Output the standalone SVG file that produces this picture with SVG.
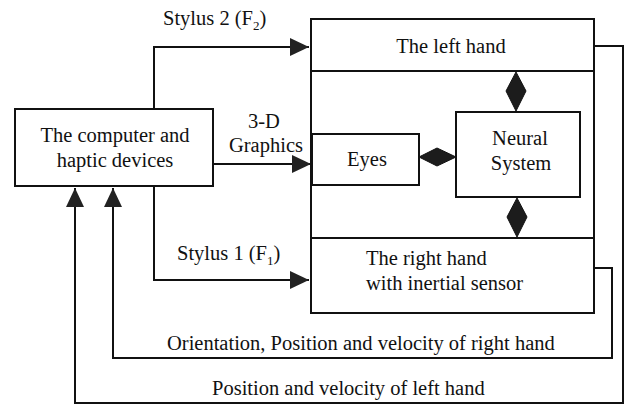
<svg xmlns="http://www.w3.org/2000/svg" width="633" height="407" viewBox="0 0 633 407">
<style>
.t{font-family:'Liberation Serif','DejaVu Serif',serif;font-size:20.5px;fill:#111}
.box{fill:#fff;stroke:#111;stroke-width:2}
.ln{fill:none;stroke:#111;stroke-width:2}
.dia{fill:#1c1c1c;stroke:#111;stroke-width:1}
</style>
<defs>
<marker id="ah" markerUnits="userSpaceOnUse" markerWidth="20" markerHeight="18" refX="19" refY="9" orient="auto">
<path d="M0,0 L19,9 L0,18 z" fill="#222"/>
</marker>
</defs>
<rect width="633" height="407" fill="#fff"/>
<g id="connectors">
<polyline class="ln" points="154,280 154,47 309,47" marker-end="url(#ah)"/>
<polyline class="ln" points="154,186 154,280 309,280" marker-end="url(#ah)"/>
<line class="ln" x1="213" y1="164" x2="311" y2="164" marker-end="url(#ah)"/>
<polyline class="ln" points="594,46 623,46 623,403 75,403 75,188" marker-end="url(#ah)"/>
<polyline class="ln" points="594,268 612,268 612,358 113,358 113,188" marker-end="url(#ah)"/>
<polygon class="dia" points="419,157 437,148 456,157 437,166"/>
<polygon class="dia" points="516,72 526,91 516,111 506,91"/>
<polygon class="dia" points="517,198 527,217 517,237 507,217"/>
</g>
<g id="outer">
<rect class="box" x="311" y="19" width="283" height="294" style="fill:none"/>
</g>
<g id="left-hand">
<rect class="box" x="311" y="19" width="283" height="52" style="fill:none"/>
<text class="t" x="451" y="53" text-anchor="middle">The left hand</text>
</g>
<g id="right-hand">
<rect class="box" x="311" y="238" width="283" height="75" style="fill:none"/>
<text class="t" x="366" y="265">The right hand</text>
<text class="t" x="366" y="290">with inertial sensor</text>
</g>
<g id="computer">
<rect class="box" x="15" y="109" width="198" height="77"/>
<text class="t" x="115" y="142" text-anchor="middle">The computer and</text>
<text class="t" x="115" y="167" text-anchor="middle">haptic devices</text>
</g>
<g id="eyes">
<rect class="box" x="312" y="134" width="107" height="51"/>
<text class="t" x="367" y="166" text-anchor="middle">Eyes</text>
</g>
<g id="neural">
<rect class="box" x="456" y="112" width="124" height="85"/>
<text class="t" x="520" y="145" text-anchor="middle">Neural</text>
<text class="t" x="521" y="170" text-anchor="middle">System</text>
</g>
<g id="labels">
<text class="t" x="163" y="25">Stylus 2 (F<tspan font-size="13" dy="5">2</tspan><tspan dy="-5">)</tspan></text>
<text class="t" x="177" y="260">Stylus 1 (F<tspan font-size="13" dy="5">1</tspan><tspan dy="-5">)</tspan></text>
<text class="t" x="264" y="128" text-anchor="middle">3-D</text>
<text class="t" x="266" y="152" text-anchor="middle">Graphics</text>
<text class="t" x="167" y="350">Orientation, Position and velocity of right hand</text>
<text class="t" x="212" y="395">Position and velocity of left hand</text>
</g>
</svg>
